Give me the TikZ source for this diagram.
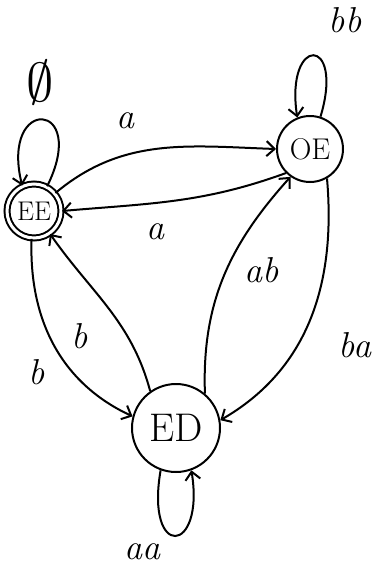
\documentclass[tikz,border=0pt]{standalone}
\usepackage{graphicx}
\usetikzlibrary{arrows.meta}
\begin{document}
\begin{tikzpicture}[x=1pt,y=1pt,
  line width=2pt,
  >={Straight Barb[length=8pt,width=15pt]},
  state/.style={draw,circle,inner sep=0pt},
  lbl/.style={font=\fontsize{36}{38}\selectfont\itshape,inner sep=1pt},
  edge/.style={->}
]
\useasboundingbox (0,0) rectangle (380,-571);
\node[state,minimum size=54pt,double,double distance=3pt,font=\fontsize{27}{29}\selectfont] (EE) at (34,-211) {EE};
\node[state,minimum size=66pt,font=\fontsize{30}{32}\selectfont] (OE) at (310,-149) {OE};
\node[state,minimum size=88pt,font=\fontsize{40}{42}\selectfont] (ED) at (176,-428) {ED};

% self loops
\draw[edge] (EE.62) .. controls (90,-100) and (0,-95) .. (EE.115);
\draw[edge] (OE.72) .. controls (345,-35) and (285,-35) .. (OE.112);
\draw[edge] (ED.250) .. controls (145,-560) and (205,-555) .. (ED.290);

% EE <-> OE
\draw[edge] (EE.40) to[out=40,in=178] (OE.west);
\draw[edge] (OE.225) to[out=200,in=5] (EE.east);

% EE <-> ED
\draw[edge] (EE.265) to[out=-92,in=155] (ED.165);
\draw[edge] (ED.125) to[out=105,in=-55] (EE.305);

% ED <-> OE
\draw[edge] (ED.50) to[out=92,in=228] (OE.235);
\draw[edge] (OE.-60) to[out=-85,in=30] (ED.10);

% labels
\node[lbl] (lphi) at (40,-82) {\scalebox{2.2}{$\emptyset$}};
\node[lbl] (lbb) at (345,-20) {bb};
\node[lbl] (la1) at (125,-121) {a};
\node[lbl] (la2) at (155,-232) {a};
\node[lbl] (lb1) at (37,-372) {b};
\node[lbl] (lb2) at (80,-336) {b};
\node[lbl] (lab) at (262,-270) {ab};
\node[lbl] (lba) at (355,-345) {ba};
\node[lbl] (laa) at (142,-552) {aa};
\end{tikzpicture}
\end{document}
